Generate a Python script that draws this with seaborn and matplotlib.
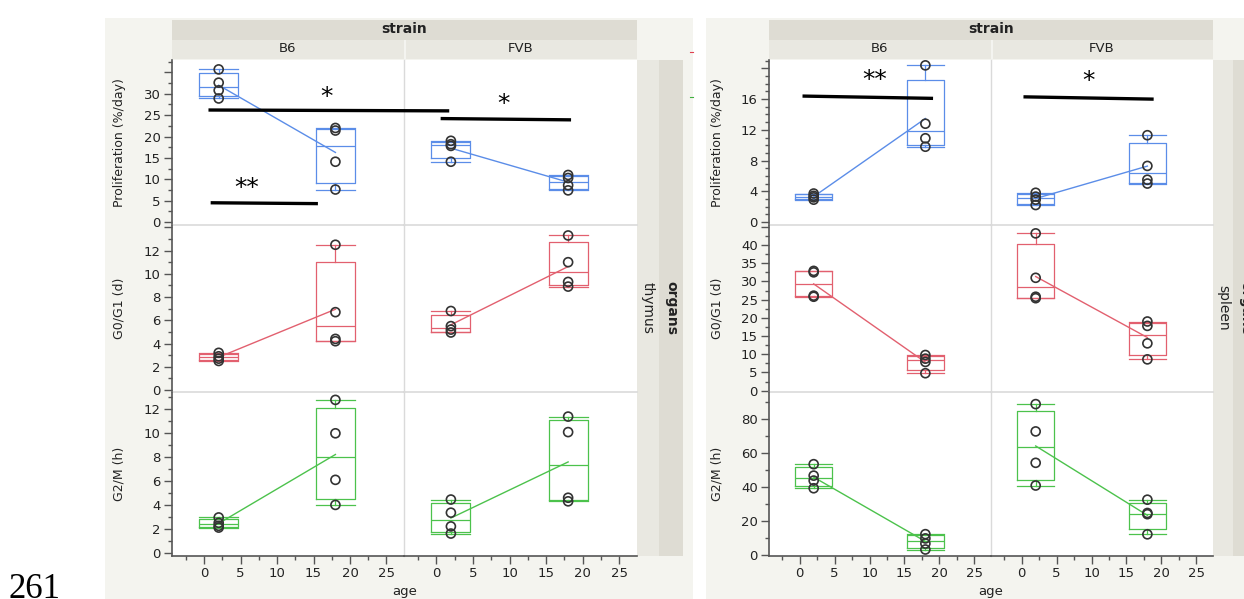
import numpy as np
import pandas as pd
import seaborn as sns
import matplotlib.pyplot as plt
from matplotlib.patches import Rectangle
from matplotlib.lines import Line2D
from matplotlib.ticker import MultipleLocator, FuncFormatter

# Data: four mice per strain, measured at 2 and 18 weeks of age
ages = [2, 18]
strains = ["B6", "FVB"]
measures = ["Proliferation (%/day)", "G0/G1 (d)", "G2/M (h)"]
organs = ["thymus", "spleen"]

thymus_prolif_B6 = [[35.7, 32.6, 30.8, 28.9], [22.0, 21.4, 14.1, 7.6]]
thymus_prolif_FVB = [[19.0, 18.2, 17.8, 14.1], [11.0, 10.3, 8.6, 7.4]]
thymus_g0g1_B6 = [[3.2, 2.9, 2.7, 2.5], [12.5, 6.7, 4.4, 4.2]]
thymus_g0g1_FVB = [[6.8, 5.5, 5.2, 4.95], [13.3, 11.0, 9.3, 8.9]]
thymus_g2m_B6 = [[2.95, 2.5, 2.25, 2.1], [12.8, 10.0, 6.1, 4.0]]
thymus_g2m_FVB = [[4.45, 3.35, 2.2, 1.6], [11.4, 10.1, 4.6, 4.3]]

spleen_prolif_B6 = [[3.7, 3.4, 3.2, 2.9], [20.4, 12.8, 10.9, 9.8]]
spleen_prolif_FVB = [[3.8, 3.3, 2.9, 2.2], [11.3, 7.3, 5.5, 5.0]]
spleen_g0g1_B6 = [[32.9, 32.5, 26.1, 25.8], [9.8, 8.8, 7.9, 4.8]]
spleen_g0g1_FVB = [[43.2, 31.0, 25.8, 25.4], [19.0, 17.8, 13.0, 8.6]]
spleen_g2m_B6 = [[53.5, 46.8, 43.9, 39.4], [12.5, 10.0, 7.0, 3.5]]
spleen_g2m_FVB = [[88.7, 72.7, 54.3, 41.0], [32.7, 24.9, 24.2, 12.4]]

series = {
    ("thymus", measures[0], "B6"): thymus_prolif_B6,
    ("thymus", measures[0], "FVB"): thymus_prolif_FVB,
    ("thymus", measures[1], "B6"): thymus_g0g1_B6,
    ("thymus", measures[1], "FVB"): thymus_g0g1_FVB,
    ("thymus", measures[2], "B6"): thymus_g2m_B6,
    ("thymus", measures[2], "FVB"): thymus_g2m_FVB,
    ("spleen", measures[0], "B6"): spleen_prolif_B6,
    ("spleen", measures[0], "FVB"): spleen_prolif_FVB,
    ("spleen", measures[1], "B6"): spleen_g0g1_B6,
    ("spleen", measures[1], "FVB"): spleen_g0g1_FVB,
    ("spleen", measures[2], "B6"): spleen_g2m_B6,
    ("spleen", measures[2], "FVB"): spleen_g2m_FVB,
}

# significance marks (row 0 only): (column, x0, x1, y0, y1) and (column, x, y, text)
sig_bars = {
    "thymus": [(0, 0.6, 33.6, 26.2, 26.0), (1, 0.6, 18.4, 24.2, 23.9), (0, 0.9, 15.6, 4.5, 4.3)],
    "spleen": [(0, 0.4, 19.1, 16.4, 16.1), (1, 0.25, 18.9, 16.3, 16.0)],
}
sig_stars = {
    "thymus": [(0, 16.8, 29.3, "*"), (1, 9.2, 27.6, "*"), (0, 5.9, 8.0, "**")],
    "spleen": [(0, 10.7, 18.5, "**"), (1, 9.5, 18.3, "*")],
}

rows = []
for (organ, measure, strain), groups in series.items():
    for age, vals in zip(ages, groups):
        for v in vals:
            rows.append((organ, measure, strain, age, v))
df = pd.DataFrame(rows, columns=["organ", "measure", "strain", "age", "value"])

# axis settings per organ/row: limits and (major, minor, last labelled tick)
ylims = {"thymus": [(-0.7, 37.9), (-0.17, 14.2), (-0.28, 13.46)],
         "spleen": [(-0.4, 21.1), (-0.36, 45.5), (-0.3, 95.8)]}
ysteps = {"thymus": [(5, 2.5, 30), (2, 1, 12), (2, 1, 12)],
          "spleen": [(4, 1, 16), (5, 2.5, 40), (20, 10, 80)]}
row_colors = ["#5b8de8", "#e2606f", "#4cc24c"]

# page layout in pixels
W, H = 1244, 599
row_px = [60, 225, 392, 556]
layout = {
    "thymus": dict(bg=(105, 693), cols=(172, 404, 637), strip=(637, 659, 683), ylab=119),
    "spleen": dict(bg=(706, 1260), cols=(769, 991, 1213), strip=(1213, 1233, 1257), ylab=717),
}
BG = "#f4f4ef"
STRIP_DARK = "#dedcd3"
STRIP_LIGHT = "#e9e8e1"
AXC = "#555555"
SEP = "#dadada"

plt.rcParams["font.family"] = ["DejaVu Sans"]
fig = plt.figure(figsize=(W / 100, H / 100), dpi=100)
fig.patch.set_facecolor("white")


def fx(x):
    return x / W


def fy(y):
    return 1 - y / H


def rect(x0, y0, x1, y1, color, z=-2):
    fig.add_artist(Rectangle((fx(x0), fy(y1)), (x1 - x0) / W, (y1 - y0) / H,
                             transform=fig.transFigure, facecolor=color,
                             edgecolor="none", zorder=z))


for organ in organs:
    L = layout[organ]
    c0, cm, c1 = L["cols"]
    s0, s1, s2 = L["strip"]
    rect(L["bg"][0], 18, L["bg"][1], H + 5, BG)
    # top strips
    rect(c0, 20, c1, 40, STRIP_DARK)
    rect(c0, 40, c1, 59, STRIP_LIGHT)
    rect(cm - 0.5, 40, cm + 1.5, 59, "#f4f4f0", z=-1.5)
    fig.text(fx((c0 + c1) / 2), fy(29), "strain", ha="center", va="center",
             fontsize=10, fontweight="bold", color="#222")
    for j, s in enumerate(strains):
        xa, xb = (c0, cm) if j == 0 else (cm, c1)
        fig.text(fx((xa + xb) / 2), fy(49), s, ha="center", va="center",
                 fontsize=9.5, color="#222")
    # right strips
    rect(s0, row_px[0], s1, row_px[-1], STRIP_LIGHT)
    rect(s1, row_px[0], s2, row_px[-1], STRIP_DARK)
    ymid = (row_px[0] + row_px[-1]) / 2
    fig.text(fx((s0 + s1) / 2), fy(ymid), organ, rotation=-90, ha="center",
             va="center", fontsize=10, color="#222")
    fig.text(fx((s1 + s2) / 2), fy(ymid), "organs", rotation=-90, ha="center",
             va="center", fontsize=10, fontweight="bold", color="#222")
    # white plot area
    rect(c0, row_px[0], c1, row_px[-1], "white", z=-1)

    for i, measure in enumerate(measures):
        col = row_colors[i]
        ya, yb = row_px[i], row_px[i + 1]
        fig.text(fx(L["ylab"]), fy((ya + yb) / 2), measure, rotation=90,
                 ha="center", va="center", fontsize=9, color="#222")
        major, minor, lab_max = ysteps[organ][i]
        for j, strain in enumerate(strains):
            xa, xb = (c0, cm) if j == 0 else (cm, c1)
            ax = fig.add_axes([fx(xa), fy(yb), (xb - xa) / W, (yb - ya) / H])
            ax.patch.set_alpha(0)
            sub = df[(df.organ == organ) & (df.measure == measure) & (df.strain == strain)]

            stats = []
            for a in ages:
                v = sub.loc[sub.age == a, "value"].to_numpy()
                q1, med, q3 = np.percentile(v, [25, 50, 75], method="weibull")
                stats.append(dict(med=med, q1=q1, q3=q3, whislo=v.min(),
                                  whishi=v.max(), fliers=[]))
            lp = dict(color=col, lw=0.9)
            ax.bxp(stats, positions=ages, widths=5.3, capwidths=5.3,
                   showfliers=False, manage_ticks=False, boxprops=lp,
                   medianprops=lp, whiskerprops=lp, capprops=lp)
            sns.lineplot(data=sub, x="age", y="value", estimator="mean",
                         errorbar=None, color=col, lw=1, ax=ax, legend=False)
            sns.scatterplot(data=sub, x="age", y="value", ax=ax, s=42,
                            facecolor="none", edgecolor="#333333",
                            linewidth=1.2, legend=False, zorder=5)

            ax.set_xlim(-4.4, 27.4)
            ax.set_ylim(*ylims[organ][i])
            ax.set_xlabel("")
            ax.set_ylabel("")
            for sp in ax.spines.values():
                sp.set_visible(False)
            ax.tick_params(which="both", direction="out", colors=AXC,
                           labelcolor="#222", labelsize=9.5, pad=2.5)
            ax.tick_params(which="major", length=5.5, width=1)
            ax.tick_params(which="minor", length=3, width=1)

            ax.yaxis.set_major_locator(MultipleLocator(major))
            ax.yaxis.set_minor_locator(MultipleLocator(minor))
            ax.yaxis.set_major_formatter(FuncFormatter(
                lambda v, p, m=lab_max: f"{v:g}" if -1e-9 <= v <= m + 1e-9 else ""))
            if j == 0:
                ax.spines["left"].set_visible(True)
                ax.spines["left"].set_color(AXC)
                ax.spines["left"].set_linewidth(1.2)
                ax.spines["right"].set_visible(True)
                ax.spines["right"].set_color(SEP)
                ax.spines["right"].set_linewidth(1)
            else:
                ax.tick_params(axis="y", which="both", left=False, labelleft=False)

            ax.xaxis.set_major_locator(MultipleLocator(5))
            ax.xaxis.set_minor_locator(MultipleLocator(2.5))
            ax.spines["bottom"].set_visible(True)
            if i < 2:
                ax.spines["bottom"].set_color(SEP)
                ax.spines["bottom"].set_linewidth(1.2)
                ax.tick_params(axis="x", which="both", bottom=False, labelbottom=False)
            else:
                ax.spines["bottom"].set_color(AXC)
                ax.spines["bottom"].set_linewidth(1.2)

            if i == 0:
                for cj, x0, x1, y0, y1 in sig_bars[organ]:
                    if cj == j:
                        ax.plot([x0, x1], [y0, y1], color="black", lw=2.4,
                                clip_on=False, zorder=6, solid_capstyle="butt")
                for cj, x, y, t in sig_stars[organ]:
                    if cj == j:
                        ax.text(x, y, t, ha="center", va="center", fontsize=18,
                                color="black", clip_on=False, zorder=6)

    fig.text(fx((c0 + c1) / 2), fy(592), "age", ha="center", va="center",
             fontsize=9.5, color="#222")

# small stray marks at the edge of the left panel
fig.add_artist(Line2D([fx(690), fx(693)], [fy(52), fy(52)], transform=fig.transFigure,
                      color="#e04050", lw=0.8))
fig.add_artist(Line2D([fx(690), fx(693)], [fy(97), fy(97)], transform=fig.transFigure,
                      color="#40b040", lw=0.8))

fig.text(fx(9), fy(573), "261", ha="left", va="top", fontsize=25,
         family=["Liberation Serif"], color="black")

fig.savefig("out.png", dpi=100)
